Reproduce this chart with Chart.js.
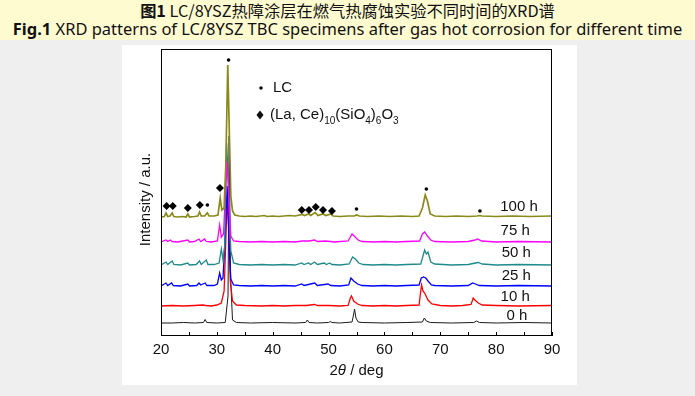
<!DOCTYPE html>
<html>
<head>
<meta charset="utf-8">
<script src="https://cdn.jsdelivr.net/npm/chart.js@4.4.1/dist/chart.umd.min.js"></script>
<style>
  html, body { margin: 0; padding: 0; }
  body { width: 695px; height: 396px; background: #efefef; position: relative; overflow: hidden; }
  #band { position: absolute; left: 0; top: 0; width: 695px; height: 40px; background: #fffbd1; }
  .title { position: absolute; left: 0; width: 695px; text-align: center; white-space: nowrap; color: #111; }
  #t1 { top: 0px; font: 14px "Noto Sans CJK SC", sans-serif; line-height: 20px; }
  #t2 { top: 19px; font: 15px "Noto Sans", sans-serif; line-height: 20px; }
  #panel { position: absolute; left: 122px; top: 45px; width: 455px; height: 340px; background: #fff; }
</style>
</head>
<body>
<div id="band"></div>
<div class="title" id="t1"><span id="t1in"><b>图1</b> LC/8YSZ热障涂层在燃气热腐蚀实验不同时间的XRD谱</span></div>
<div class="title" id="t2"><span id="t2in"><b>Fig.1</b> XRD patterns of LC/8YSZ TBC specimens after gas hot corrosion for different time</span></div>
<div id="panel"><canvas id="xrd" width="455" height="340"></canvas></div>
<script>
// series names, colours and label positions (2theta, intensity)
const seriesNames = ['0 h', '10 h', '25 h', '50 h', '75 h', '100 h'];
const seriesColors = ['#1a1a1a', '#ff0000', '#0000ff', '#1f8a8a', '#ff00ff', '#8a8a1a'];
const labelX = [83.7, 83.4, 83.6, 83.6, 83.4, 84.1];
const labelY = [20, 39, 60, 83, 105, 129];
const xTicks = [20, 30, 40, 50, 60, 70, 80, 90];

// patterns: [2theta, intensity a.u.]
const pattern0h = [[20,13],[22,13],[24,13.5],[26,13],[27.6,13.5],[27.9,16.5],[28.2,13.5],[30,13],[31.5,13.5],[32.0,40],[32.2,200],[32.45,60],[32.8,16],[33.5,13.5],[36,13],[40,13.5],[44,13],[45.9,13.5],[46.2,16],[46.5,13.5],[48,13],[50,13.5],[50.3,14.5],[50.6,13.5],[52,13],[54.2,14],[54.5,22],[54.65,27],[54.9,18],[55.3,14],[56,13.5],[60,13],[64,13.5],[66.8,14],[67.15,18],[67.5,15],[68.2,13.5],[72,13],[76,13.5],[76.5,15],[77,13.5],[80,13],[85,13.5],[90,13]];
const pattern10h = [[20,30],[22,30.5],[24,30],[26,30.5],[27.5,31],[28,30.5],[29,30],[30,31],[30.8,33],[31.3,45],[31.6,95],[31.85,140],[32.1,110],[32.4,55],[32.8,35],[33.5,31],[35,30.5],[38,30],[40,30.5],[42,30],[44,30.5],[46,30.5],[47.5,31.5],[48,30.5],[50,30.5],[52,30],[53.5,30.5],[53.9,38],[54.1,40],[54.5,35],[55.2,32],[56,30.5],[58,30],[60,30.5],[62,30],[64,30.5],[66.2,31],[66.5,45],[66.65,51],[66.9,45],[67.2,43],[67.8,36],[68.5,32],[70,30.5],[72,30],[74,30.5],[75.5,31.5],[75.9,38],[76.2,36],[76.8,33],[77.5,31],[80,30.5],[84,30],[90,30.5]];
const pattern25h = [[20,50],[20.9,53],[21.2,50.5],[21.9,53],[22.2,50.5],[23.5,50],[24.8,52],[25.1,50],[26.4,50.5],[26.8,53],[27.1,51],[27.9,53],[28.2,50.5],[29.5,50.5],[30.1,52],[30.5,63],[30.8,56],[31.1,58],[31.5,100],[31.85,150],[32.2,90],[32.5,57],[33,51],[34,50.5],[36,50],[38,50.5],[40,50],[42,50.5],[44,50],[45.2,52],[45.6,50.5],[46.4,51.5],[47.5,53],[48,50.5],[49.9,52],[50.4,50.5],[52,50],[53.6,51],[54.0,58],[54.5,55],[55.2,52],[56,50.5],[58,50],[60,50.5],[62,50],[64,50.5],[66.2,51],[66.6,58],[67.0,59],[67.4,58],[67.8,55],[68.4,51],[69,50.5],[72,50],[75,50.5],[75.8,53],[76.3,52],[77,50.5],[80,50],[84,50.5],[90,50]];
const pattern50h = [[20,71],[20.9,74],[21.2,71.5],[22,75],[22.3,71.5],[23.5,71],[24.8,73],[25.1,71],[26.3,71.5],[26.9,75],[27.2,71.5],[28.1,76],[28.4,71.5],[29.5,71.5],[30.4,73],[30.8,87],[31.1,76],[31.4,90],[31.75,193],[32.1,150],[32.5,85],[33,73],[34,71.5],[36,71],[38,71.5],[40,71],[42,71.5],[44,71],[45.2,73],[45.6,71.5],[46.4,73],[46.8,71.5],[47.5,74],[48,71.5],[49.2,73],[49.6,71.5],[50.2,73],[50.6,71.5],[52,71],[53.7,72],[54.3,79],[54.8,77],[55.4,73],[56.2,71.5],[58,71],[60,71.5],[62,71],[64,71.5],[66.5,72],[66.9,80],[67.2,86],[67.5,82],[67.8,84],[68.3,74],[69,72],[72,71],[75,71.5],[76.3,73],[76.8,73.5],[77.5,72],[80,71],[84,71.5],[90,71]];
const pattern75h = [[20,94],[20.9,96],[21.2,94.5],[21.7,96],[22,94.5],[23,94],[24.8,96],[25.1,94],[26,94.5],[26.8,97],[27.1,94.5],[27.8,97],[28.1,94.5],[29,94],[30.1,95],[30.5,111],[30.8,99],[31.2,102],[31.5,140],[31.85,175],[32.2,130],[32.5,100],[33,95],[34,94.5],[36,94],[38,94.5],[40,94],[42,94.5],[44,94],[45.3,95],[46.5,95],[47.5,96],[48,94.5],[49.5,95],[51,94],[53.5,95],[54.2,102],[54.6,100],[55.3,96],[56,94.5],[58,94],[60,94.5],[62,94],[64,94.5],[66.3,95],[66.8,102],[67.2,104],[67.7,100],[68.3,96],[69,94.5],[72,94],[75,94.5],[76.2,96],[76.7,97],[77.4,95],[80,94],[84,94.5],[90,94]];
const pattern100h = [[20,119],[20.6,119.5],[20.9,123],[21.2,119.5],[21.6,120],[22.0,123],[22.3,119.5],[23,119],[23.8,119.5],[24.5,119],[24.8,122],[25.1,119],[26,119.5],[26.6,120],[26.9,124],[27.2,120],[27.8,120],[28.3,123],[28.6,120],[29.5,120],[30.2,121],[30.6,138],[30.9,126],[31.3,128],[31.6,170],[31.95,271],[32.25,200],[32.5,140],[32.8,125],[33.2,121],[34,120],[35,119.5],[36,120],[37,119.5],[38.5,120.5],[39,119.5],[40,120],[41,119.5],[42,120],[43,120.5],[44,120],[45.3,121.5],[45.7,120.5],[46.4,122],[46.8,120.5],[47.6,123.5],[48.1,120.5],[49.0,122],[49.5,120.5],[50.4,122],[50.8,120],[52,119.5],[53.5,120],[54.6,120],[55.0,121],[55.5,120],[57,119.5],[59,120],[61,119.5],[63,120],[65,119.5],[66.2,120],[66.8,128],[67.3,141],[67.7,135],[68.2,122],[69,120],[71,119.5],[73,120],[75,119.5],[76.6,120],[77,120.5],[77.5,120],[80,119.5],[83,120],[86,119.5],[90,120]];
const patterns = [pattern0h, pattern10h, pattern25h, pattern50h, pattern75h, pattern100h];

// phase markers: LC (dots) and (La, Ce)10(SiO4)6O3 (diamonds)
const lcMarks = [[28.3,131],[32.1,276],[55.0,127],[67.5,147],[77.1,125]];
const apatiteMarks = [[21.0,130],[22.1,130],[24.8,128],[26.95,131],[30.55,148],[45.2,126],[46.5,126],[47.7,129],[49.0,126],[50.6,125]];

// fit the captions to the widths of the printed ones
function fitCaption(innerId, boxId, base, target) {
  const w = document.getElementById(innerId).getBoundingClientRect().width;
  document.getElementById(boxId).style.fontSize = (base * target / w).toFixed(2) + 'px';
}
fitCaption('t1in', 't1', 14, 415);
fitCaption('t2in', 't2', 15, 670);

const FONT = '"Liberation Sans", Arial, sans-serif';
const toXY = arr => arr.map(p => ({ x: p[0], y: p[1] }));

const decor = {
  id: 'decor',
  afterDraw(chart) {
    const { ctx, chartArea: a } = chart;
    const xs = chart.scales.x, ys = chart.scales.y;
    ctx.save();
    // frame
    ctx.strokeStyle = '#000';
    ctx.lineWidth = 1;
    ctx.strokeRect(Math.round(a.left) + 0.5, Math.round(a.top) + 0.5,
      Math.round(a.right - a.left) - 1, Math.round(a.bottom - a.top) - 1);
    // inward ticks every 5 deg
    ctx.beginPath();
    for (let v = 20; v <= 90; v += 5) {
      const px = Math.round(xs.getPixelForValue(v)) + 0.5;
      ctx.moveTo(px, a.bottom);
      ctx.lineTo(px, a.bottom - 4);
    }
    ctx.stroke();
    // series labels
    ctx.fillStyle = '#111';
    ctx.font = '15px ' + FONT;
    ctx.textAlign = 'center';
    ctx.textBaseline = 'middle';
    seriesNames.forEach((n, i) => {
      ctx.fillText(n, xs.getPixelForValue(labelX[i]), ys.getPixelForValue(labelY[i]));
    });
    // legend
    const lx = a.left + 99, ly1 = a.top + 39, ly2 = a.top + 66;
    ctx.beginPath();
    ctx.arc(lx + 1, ly1, 1.8, 0, Math.PI * 2);
    ctx.fill();
    ctx.textAlign = 'left';
    ctx.fillText('LC', lx + 13, ly1);
    ctx.beginPath();
    ctx.moveTo(lx, ly2 - 4.5); ctx.lineTo(lx + 3.5, ly2); ctx.lineTo(lx, ly2 + 4.5); ctx.lineTo(lx - 3.5, ly2);
    ctx.closePath();
    ctx.fill();
    const parts = [['(La, Ce)', 0], ['10', 1], ['(SiO', 0], ['4', 1], [')', 0], ['6', 1], ['O', 0], ['3', 1]];
    let cx = lx + 10;
    parts.forEach(([t, sub]) => {
      ctx.font = (sub ? '10px ' : '15px ') + FONT;
      ctx.fillText(t, cx, sub ? ly2 + 6 : ly2);
      cx += ctx.measureText(t).width;
    });
    // axis titles
    ctx.font = '15px ' + FONT;
    const tParts = [['2', ''], ['\u03b8', 'italic '], [' / deg', '']];
    let tw = 0;
    tParts.forEach(([t, st]) => { ctx.font = st + '15px ' + FONT; tw += ctx.measureText(t).width; });
    let tx = (a.left + a.right) / 2 - tw / 2;
    const ty = a.bottom + 35;
    tParts.forEach(([t, st]) => {
      ctx.font = st + '15px ' + FONT;
      ctx.fillText(t, tx, ty);
      tx += ctx.measureText(t).width;
    });
    ctx.font = '15px ' + FONT;
    ctx.translate(a.left - 15, (a.top + a.bottom) / 2 + 7);
    ctx.rotate(-Math.PI / 2);
    ctx.textAlign = 'center';
    ctx.fillText('Intensity / a.u.', 0, 0);
    ctx.restore();
  }
};

const datasets = patterns.map((p, i) => ({
  label: seriesNames[i],
  data: toXY(p),
  borderColor: seriesColors[i],
  borderWidth: i === 5 ? 1.7 : (i === 0 ? 1 : 1.3),
  pointRadius: 0,
  tension: 0,
  showLine: true,
  order: 6 - i
}));
datasets.push({
  label: 'LC',
  data: toXY(lcMarks),
  showLine: false,
  pointStyle: 'circle',
  pointRadius: 1.8,
  backgroundColor: '#000',
  borderColor: '#000',
  borderWidth: 0,
  order: 0
});
datasets.push({
  label: 'apatite',
  data: toXY(apatiteMarks),
  showLine: false,
  pointStyle: 'rectRot',
  pointRadius: 4,
  backgroundColor: '#000',
  borderColor: '#000',
  borderWidth: 0,
  order: 0
});

new Chart(document.getElementById('xrd'), {
  type: 'scatter',
  data: { datasets },
  options: {
    responsive: false,
    animation: false,
    events: [],
    layout: { padding: { left: 0, top: 4, right: 25, bottom: 0 } },
    plugins: { legend: { display: false }, tooltip: { enabled: false } },
    scales: {
      x: {
        type: 'linear',
        min: 20,
        max: 90,
        afterBuildTicks: s => { s.ticks = xTicks.map(v => ({ value: v })); },
        afterFit: s => { s.height = 49; },
        grid: { display: false, drawTicks: false },
        border: { display: false },
        ticks: { color: '#111', font: { family: FONT, size: 15 }, padding: 5, maxRotation: 0 }
      },
      y: {
        type: 'linear',
        min: 0,
        max: 287,
        afterFit: s => { s.width = 39; },
        grid: { display: false, drawTicks: false },
        border: { display: false },
        ticks: { display: false }
      }
    }
  },
  plugins: [decor]
});
</script>
</body>
</html>
